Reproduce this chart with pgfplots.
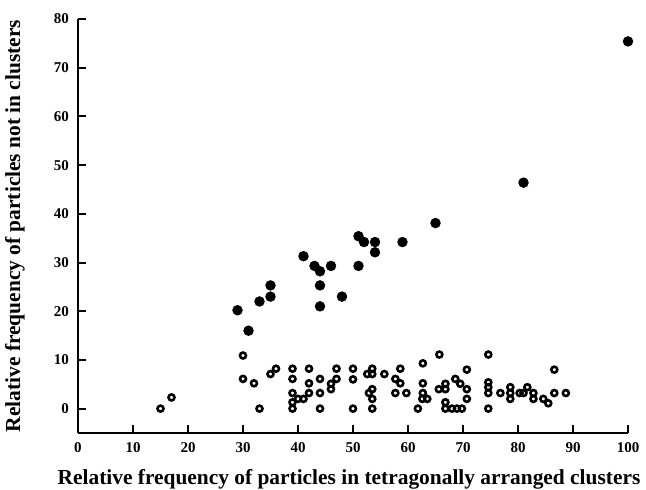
\documentclass[border=0pt]{standalone}
\usepackage{fontspec}
\setmainfont{Liberation Serif}
\usepackage{pgfplots}
\pgfplotsset{compat=1.18}

\begin{document}
\begin{tikzpicture}
\begin{axis}[
  name=ax,
  scale only axis,
  width=275pt, height=207pt,
  xmin=0, xmax=100, ymin=-5, ymax=80,
  xtick={0,10,...,100}, ytick={0,10,...,80},
  axis lines=left,
  axis line style={-, line width=1pt},
  major tick style={line width=1pt, black},
  major tick length=4pt,
  tick align=inside,
  /pgf/number format/assume math mode=true,
  tick label style={font=\fontsize{7.5}{8}\selectfont\bfseries},
  xticklabel style={yshift=-1pt},
  yticklabel style={xshift=-1pt},
  label style={font=\fontsize{10.7}{12}\selectfont\bfseries, inner sep=0pt},
  xlabel={Relative frequency of particles in tetragonally arranged clusters},
  ylabel={Relative frequency of particles not in clusters},
  xlabel style={at={(axis description cs:0.5,0)}, anchor=north, yshift=-18pt, xshift=-2pt},
  ylabel style={at={(axis description cs:-0.096,0.5)}, anchor=south},
]
% filled circles
\addplot[only marks, mark=*, mark size=2.4pt, black] coordinates {
  (29,20.2)(31,16)(33,22)(35,23)(35,25.3)(41,31.3)(43,29.3)(44,28.2)
  (44,25.3)(44,21)(46,29.3)(48,23)(51,35.4)(51,29.3)(52,34.2)(54,34.2)
  (54,32.1)(59,34.2)(65,38.1)(81,46.4)(100,75.4)};
% open circles
\addplot[only marks, mark=o, mark size=1.5pt, black, mark options={line width=1.3pt}] coordinates {
  (15,0)(17,2.3)(30,10.9)(30,6.1)(32,5.2)(33,0)(35,7.1)(36,8.2)
  (39,8.2)(39,6.1)(39,3.2)(39,1.3)(39,0)(40,2)(41,2)(42,3.2)(42,8.2)(42,5.2)
  (44,6.1)(44,3.2)(44,0)(46,4)(46,5.1)(47,8.2)(47,6.1)
  (50,8.2)(50,6)(50,0)(52.6,7.1)(53.5,8.2)(53.5,7.1)(55.7,7.1)
  (52.9,3.2)(53.5,4)(53.5,2)(53.5,0)(57.7,6.1)(58.6,8.2)(58.6,5.2)
  (57.7,3.2)(59.7,3.2)(62.7,9.3)(62.7,5.2)(62.7,3.2)(62.6,2)(63.5,2)(61.8,0)
  (65.7,11.1)(65.6,4)(66.8,5.1)(66.8,4)(66.8,1.3)(66.8,0)(68,0)(68.9,0)(69.8,0)
  (68.6,6.1)(69.5,5.1)(70.7,8)(70.7,4)(70.7,2)
  (74.6,11.1)(74.6,5.4)(74.6,4.4)(74.6,3.2)(74.6,0)(76.8,3.2)
  (78.6,4.4)(78.6,3.2)(78.6,2)(80.3,3.2)(81,3.2)(81.7,4.4)(82.8,3.2)(82.8,2)
  (84.6,2)(85.5,1.1)(86.6,8)(86.6,3.2)(88.7,3.2)};
\end{axis}
\pgfresetboundingbox
\path ([shift={(-39pt,-28.5pt)}]ax.south west) rectangle ([shift={(9pt,9.5pt)}]ax.north east);
\end{tikzpicture}
\end{document}
